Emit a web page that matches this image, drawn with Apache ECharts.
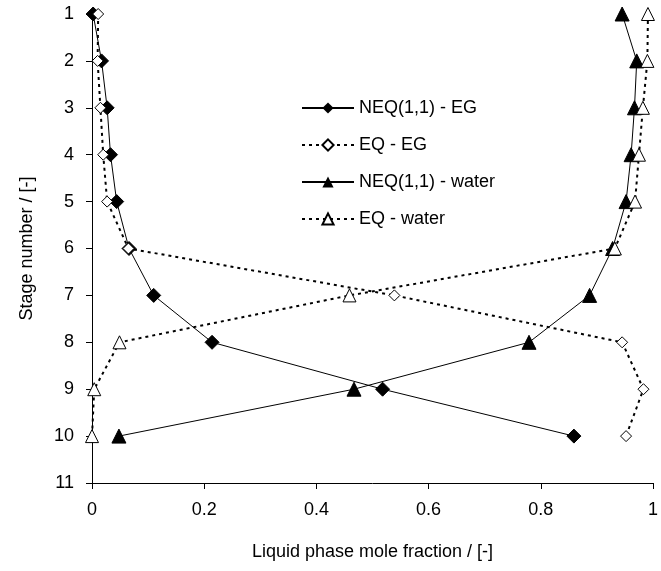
<!DOCTYPE html>
<html>
<head>
<meta charset="utf-8">
<script src="https://cdn.jsdelivr.net/npm/echarts@6/dist/echarts.min.js"></script>
<style>html,body{margin:0;padding:0;background:#fff;}#c{width:661px;height:571px;}</style>
</head>
<body>
<div id="c"></div>
<script>
var stages = [1, 2, 3, 4, 5, 6, 7, 8, 9, 10];
var neqEG   = [0.002, 0.017, 0.027, 0.033, 0.044, 0.066, 0.110, 0.214, 0.518, 0.859];
var eqEG    = [0.011, 0.010, 0.015, 0.020, 0.027, 0.065, 0.539, 0.945, 0.983, 0.952];
var neqW    = [0.945, 0.971, 0.967, 0.961, 0.952, 0.928, 0.887, 0.779, 0.467, 0.048];
var eqW     = [0.991, 0.990, 0.982, 0.975, 0.968, 0.932, 0.459, 0.049, 0.004, 0.000];
var xTicks = [0, 0.2, 0.4, 0.6, 0.8, 1];
var yTicks = [1, 2, 3, 4, 5, 6, 7, 8, 9, 10, 11];
var names = ['NEQ(1,1) - EG', 'EQ - EG', 'NEQ(1,1) - water', 'EQ - water'];

function pairs(xs) { return xs.map(function (x, i) { return [x, stages[i]]; }); }

var font = 'Liberation Sans, Arial, sans-serif';
var chart = echarts.init(document.getElementById('c'));
var diamond = 'path://M0,-1L1,0L0,1L-1,0Z';
var tri = 'path://M0,-1L1,0.8L-1,0.8Z';
chart.setOption({
  animation: false,
  backgroundColor: '#fff',
  grid: { left: 92, right: 3, top: 14, bottom: 88 },
  legend: {
    orient: 'vertical', left: 296, top: 94, itemGap: 19, itemWidth: 52, itemHeight: 14,
    textStyle: { fontFamily: font, fontSize: 18, color: '#000' },
    data: names
  },
  xAxis: {
    type: 'value', min: 0, max: 1, interval: 0.2,
    name: 'Liquid phase mole fraction / [-]', nameLocation: 'middle', nameGap: 60,
    nameTextStyle: { fontFamily: font, fontSize: 18, color: '#000' },
    axisLine: { onZero: false, lineStyle: { color: '#000', width: 1 } },
    axisTick: { length: 6, lineStyle: { color: '#000' } },
    axisLabel: { fontFamily: font, fontSize: 18, color: '#000', margin: 18,
      formatter: function (v) { return xTicks.indexOf(+v.toFixed(1)) >= 0 ? String(+v.toFixed(1)) : ''; } },
    splitLine: { show: false }
  },
  yAxis: {
    type: 'value', min: 1, max: 11, interval: 1, inverse: true,
    name: 'Stage number / [-]', nameLocation: 'middle', nameGap: 56,
    nameTextStyle: { fontFamily: font, fontSize: 18, color: '#000' },
    axisLine: { onZero: false, lineStyle: { color: '#000', width: 1 } },
    axisTick: { length: 6, lineStyle: { color: '#000' } },
    axisLabel: { fontFamily: font, fontSize: 18, color: '#000', margin: 18 },
    splitLine: { show: false }
  },
  series: [
    { name: names[0], type: 'line', data: pairs(neqEG), symbol: diamond, symbolSize: 14,
      itemStyle: { color: '#000', borderColor: '#000' }, lineStyle: { color: '#000', width: 1 } },
    { name: names[1], type: 'line', data: pairs(eqEG), symbol: diamond, symbolSize: 11,
      itemStyle: { color: '#fff', borderColor: '#000', borderWidth: 1 },
      lineStyle: { color: '#000', width: 2, type: [3, 4] } },
    { name: names[2], type: 'line', data: pairs(neqW), symbol: tri, symbolSize: 14,
      itemStyle: { color: '#000', borderColor: '#000' }, lineStyle: { color: '#000', width: 1 } },
    { name: names[3], type: 'line', data: pairs(eqW), symbol: tri, symbolSize: 13,
      itemStyle: { color: '#fff', borderColor: '#000', borderWidth: 1 },
      lineStyle: { color: '#000', width: 2, type: [3, 4] } }
  ]
});
</script>
</body>
</html>
